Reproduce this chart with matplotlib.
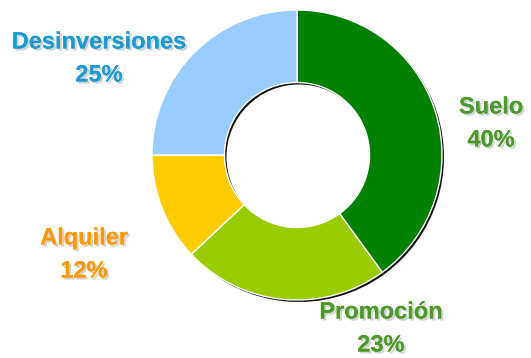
import matplotlib.pyplot as plt
import matplotlib.patheffects as pe

# Donut data: share of each activity, clockwise from the top
labels = ['Suelo', 'Promoción', 'Alquiler', 'Desinversiones']
values = [40, 23, 12, 25]
colors = ['#008000', '#99cc00', '#ffcc00', '#99ccff']
text_colors = ['#4c9a2a', '#4c9a2a', '#ff9900', '#1c9bd3']

# label anchor points in pixel space (x, y of the name line)
label_pos = [(491, 107), (381, 312), (84, 238), (99, 42)]

W, H = 531, 358
fig = plt.figure(figsize=(W / 100, H / 100), dpi=100)
ax = fig.add_axes([0, 0, 1, 1])
ax.set_xlim(0, W)
ax.set_ylim(0, H)
ax.set_aspect('equal')
ax.axis('off')

cx, cy, r = 297, H - 155, 145
ring = dict(width=r * 0.5)

# dark drop shadow of the ring, slightly down-right
ax.pie(values, radius=r, center=(cx + 2, cy - 2), startangle=90,
       counterclock=False, colors=['#111111'] * len(values),
       wedgeprops=dict(ring, linewidth=0))

ax.pie(values, radius=r, center=(cx, cy), startangle=90,
       counterclock=False, colors=colors,
       wedgeprops=dict(ring, edgecolor='white', linewidth=1.0))
ax.set_xlim(0, W)
ax.set_ylim(0, H)

shadow = [pe.withSimplePatchShadow(offset=(1.5, -1.5), shadow_rgbFace='#aaaaaa', alpha=0.5),
          pe.Normal()]
for name, v, c, (x, y) in zip(labels, values, text_colors, label_pos):
    ax.text(x, H - y, name, ha='center', va='center', color=c, fontsize=17,
            fontweight='bold', family='Liberation Sans', path_effects=shadow)
    ax.text(x, H - y - 33, f'{v}%', ha='center', va='center', color=c, fontsize=17,
            fontweight='bold', family='Liberation Sans', path_effects=shadow)

fig.savefig('out.png', dpi=100)
